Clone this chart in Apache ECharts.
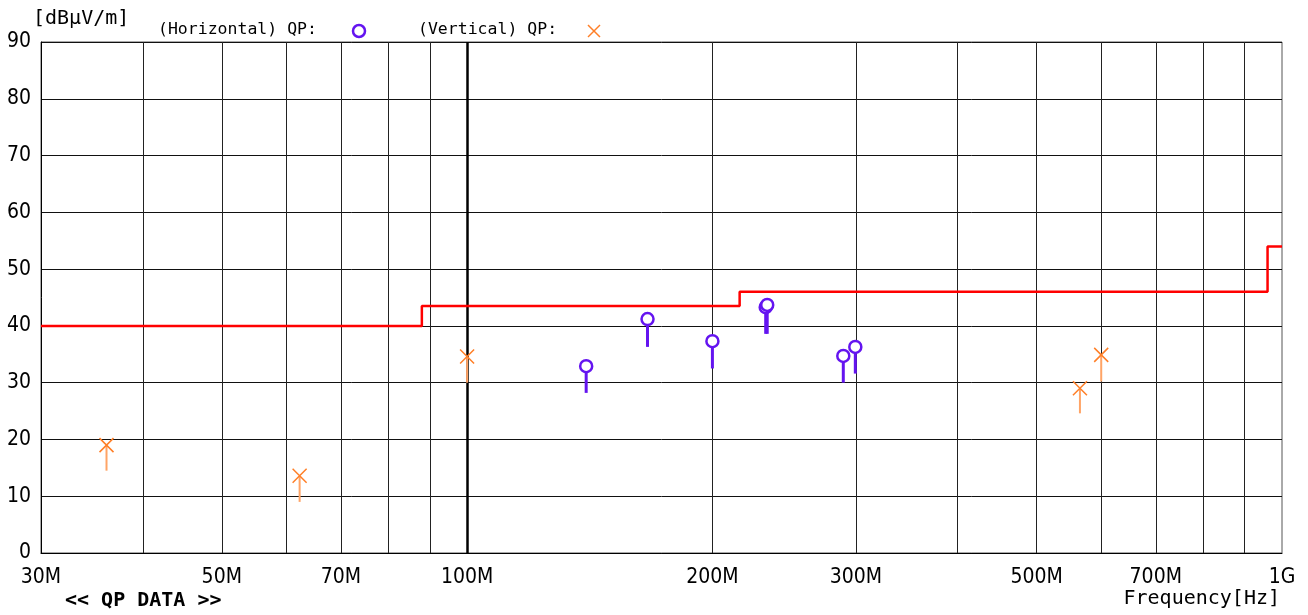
<!DOCTYPE html>
<html>
<head>
<meta charset="utf-8">
<script src="https://cdn.jsdelivr.net/npm/echarts@6/dist/echarts.min.js"></script>
<style>html,body{margin:0;padding:0;background:#fff;}#c{width:1308px;height:615px;}</style>
</head>
<body>
<div id="c"></div>
<script>
// ---- data ----
const xTickLabels = [30e6, 50e6, 70e6, 100e6, 200e6, 300e6, 500e6, 700e6, 1e9];
const gridFreqs = [40e6, 50e6, 60e6, 70e6, 80e6, 90e6, 200e6, 300e6, 400e6, 500e6, 600e6, 700e6, 800e6, 900e6];
const majorGridFreq = [100e6];

const limitFreqs = [30e6, 88e6, 216e6, 960e6, 1000e6];
const limitValues = [40, 43.5, 46, 54, 54];

const hFreqs = [140e6, 166.5e6, 200e6, 232.5e6, 233.5e6, 289.5e6, 299.5e6];
const hQP    = [32.9, 41.2, 37.3, 43.3, 43.7, 34.7, 36.3];
const hLow   = [28.2, 36.3, 32.5, 38.6, 38.6, 30.0, 31.6];

const vFreqs = [36.1e6, 62.3e6, 100e6, 565e6, 600e6];
const vQP    = [19.0, 13.6, 34.6, 29.0, 34.9];
const vLow   = [14.5, 9.0, 30.0, 24.6, 30.2];

// ---- chart ----
const PURPLE = '#6414f0';
const ORANGE = '#ff7f27';
const ORANGE_STEM = '#ffa466';
const NARROW = "'Liberation Sans Narrow', 'DejaVu Sans Condensed', sans-serif";
const MONO = "'DejaVu Sans Mono', monospace";

function fmtFreq(v) {
  v = Math.round(v);
  if (v >= 1e9) return Math.round(v / 1e9) + 'G';
  return Math.round(v / 1e6) + 'M';
}

const stemRender = (color, width) => function (params, api) {
  const top = api.coord([api.value(0), api.value(1)]);
  const bot = api.coord([api.value(0), api.value(2)]);
  return {
    type: 'line',
    shape: { x1: top[0], y1: top[1], x2: bot[0], y2: bot[1] },
    style: { stroke: color, lineWidth: width }
  };
};

const chart = echarts.init(document.getElementById('c'), null, { renderer: 'canvas' });
const option = {
  animation: false,
  backgroundColor: '#fff',
  grid: { left: 41, right: 26, top: 42, bottom: 62, show: true, borderColor: '#555', borderWidth: 1, backgroundColor: 'transparent' },
  xAxis: {
    type: 'log', logBase: 10, min: 30e6, max: 1e9,
    axisLine: { show: true, onZero: false, lineStyle: { color: '#000', width: 1 } },
    axisTick: { show: false },
    splitLine: { show: false },
    minorSplitLine: { show: false },
    axisLabel: {
      customValues: xTickLabels,
      formatter: fmtFreq,
      fontFamily: NARROW, fontSize: 21, color: '#000', margin: 14
    }
  },
  yAxis: {
    type: 'value', min: 0, max: 90, interval: 10,
    axisLine: { show: true, lineStyle: { color: '#000', width: 1 } },
    axisTick: { show: false },
    splitLine: { show: true, lineStyle: { color: '#111', width: 1 } },
    axisLabel: { fontFamily: NARROW, fontSize: 21, color: '#000', margin: 10 }
  },
  graphic: [
    { type: 'text', left: 33, top: 9, style: { text: '[dBμV/m]', font: "20px " + MONO, fill: '#000' } },
    { type: 'text', left: 158, top: 21, style: { text: '(Horizontal) QP:', font: "16.5px " + MONO, fill: '#000' } },
    { type: 'circle', shape: { cx: 359, cy: 31, r: 6 }, style: { fill: '#fff', stroke: PURPLE, lineWidth: 2.5 } },
    { type: 'text', left: 418, top: 21, style: { text: '(Vertical) QP:', font: "16.5px " + MONO, fill: '#000' } },
    { type: 'polyline', shape: { points: [[588, 25], [600, 37]] }, style: { stroke: ORANGE, lineWidth: 1.5 } },
    { type: 'polyline', shape: { points: [[600, 25], [588, 37]] }, style: { stroke: ORANGE, lineWidth: 1.5 } },
    { type: 'text', left: 65, top: 591, style: { text: '<< QP DATA >>', font: "bold 20px " + MONO, fill: '#000' } },
    { type: 'text', right: 28, top: 589, style: { text: 'Frequency[Hz]', font: "20px " + MONO, fill: '#000' } }
  ],
  series: [
    {
      name: 'grid', type: 'line', data: [], silent: true, z: 1,
      markLine: {
        silent: true, z: 1, symbol: ['none', 'none'], label: { show: false },
        data: gridFreqs.map(f => ({ xAxis: f, lineStyle: { color: '#222', width: 1, type: 'solid' } }))
          .concat(majorGridFreq.map(f => ({ xAxis: f, lineStyle: { color: '#000', width: 2.5, type: 'solid' } })))
      }
    },
    {
      name: 'Limit', type: 'line', step: 'end', symbol: 'none', z: 3,
      data: limitFreqs.map((f, i) => [f, limitValues[i]]),
      lineStyle: { color: '#ff0000', width: 2.5 }
    },
    {
      name: 'hStem', type: 'custom', z: 4,
      renderItem: stemRender(PURPLE, 3),
      data: hFreqs.map((f, i) => [f, hQP[i], hLow[i]])
    },
    {
      name: 'vStem', type: 'custom', z: 4,
      renderItem: stemRender(ORANGE_STEM, 2),
      data: vFreqs.map((f, i) => [f, vQP[i], vLow[i]])
    },
    {
      name: '(Horizontal) QP', type: 'scatter', z: 5,
      symbol: 'circle', symbolSize: 12,
      itemStyle: { color: '#fff', borderColor: PURPLE, borderWidth: 2.5, opacity: 1 },
      data: hFreqs.map((f, i) => [f, hQP[i]])
    },
    {
      name: '(Vertical) QP', type: 'scatter', z: 5,
      symbol: 'path://M0,0L10,10M10,0L0,10', symbolSize: 14,
      itemStyle: { color: 'none', borderColor: ORANGE, borderWidth: 1.5, opacity: 1 },
      data: vFreqs.map((f, i) => [f, vQP[i]])
    }
  ]
};
chart.setOption(option);
</script>
</body>
</html>
